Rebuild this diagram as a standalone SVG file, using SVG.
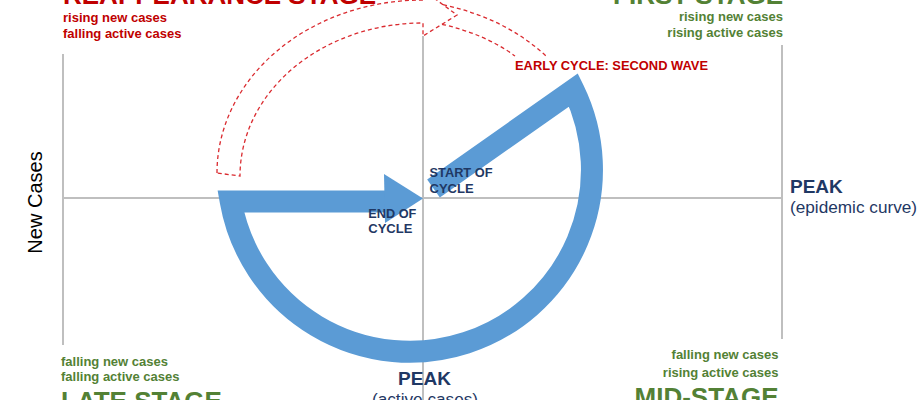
<svg xmlns="http://www.w3.org/2000/svg" width="921" height="400" viewBox="0 0 921 400">
<style>
text{font-family:"Liberation Sans",Arial,sans-serif}
.b{font-weight:bold}
.red{fill:#C00000}
.grn{fill:#538135}
.navy{fill:#1F3864}
.stage{font-size:26px;font-weight:bold}
.sub{font-size:13px;font-weight:bold}
.lbl{font-size:13px;font-weight:bold;fill:#1F3864}
.axis{stroke:#BFBFBF;stroke-width:2;fill:none}
.dash{stroke:#DA2A2F;stroke-width:1.3;fill:none;stroke-dasharray:4 3}
</style>
<rect width="921" height="400" fill="#FFFFFF"/>
<g id="axes">
<line class="axis" x1="63" y1="198" x2="782" y2="198"/>
<line class="axis" x1="423" y1="36" x2="423" y2="400"/>
<line class="axis" x1="63" y1="54" x2="63" y2="345"/>
<line class="axis" x1="782" y1="45" x2="782" y2="339"/>
</g>
<g id="connectors">
<path id="cycle" d="M 433.5 188.5 L 573.5 89.9 A 182 182 0 1 1 230.75 201.5 L 386 201.5" fill="none" stroke="#5B9BD5" stroke-width="22" stroke-linejoin="miter" stroke-miterlimit="4"/>
<polygon id="cycle-head" points="384,174 423,198.5 385,223" fill="#5B9BD5"/>
<path id="second-wave" class="dash" d="M 217 173 A 206 173 0 0 1 423 0 L 423 -10 L 457 15 L 423 36 L 423 23 A 183 153 0 0 0 240 176 Z"/>
<path id="second-wave-tail" class="dash" d="M 443 4.7 Q 505 18 546 56 M 442 24.3 Q 485 34 515 56"/>
</g>
<g id="reappearance-stage">
<text class="stage red" x="63" y="4">REAPPEARANCE STAGE</text>
<text class="sub red" x="63" y="22">rising new cases</text>
<text class="sub red" x="63" y="37.5">falling active cases</text>
</g>
<g id="first-stage">
<text class="stage grn" x="783" y="4" text-anchor="end">FIRST STAGE</text>
<text class="sub grn" x="783" y="21" text-anchor="end">rising new cases</text>
<text class="sub grn" x="783" y="36.5" text-anchor="end">rising active cases</text>
</g>
<g id="late-stage">
<text class="sub grn" x="61" y="365.5">falling new cases</text>
<text class="sub grn" x="61" y="381">falling active cases</text>
<text class="stage grn" x="61" y="409.5">LATE STAGE</text>
</g>
<g id="mid-stage">
<text class="sub grn" x="778.5" y="358.5" text-anchor="end">falling new cases</text>
<text class="sub grn" x="778.5" y="377" text-anchor="end">rising active cases</text>
<text class="stage grn" x="778.5" y="405.5" text-anchor="end">MID-STAGE</text>
</g>
<g id="early-cycle">
<text class="sub red" x="515" y="70" textLength="193" lengthAdjust="spacingAndGlyphs">EARLY CYCLE: SECOND WAVE</text>
</g>
<g id="start-of-cycle">
<text class="lbl" x="429.5" y="177.3" textLength="63" lengthAdjust="spacingAndGlyphs">START OF</text>
<text class="lbl" x="429.5" y="192.7">CYCLE</text>
</g>
<g id="end-of-cycle">
<text class="lbl" x="368.3" y="218.3" textLength="48" lengthAdjust="spacingAndGlyphs">END OF</text>
<text class="lbl" x="368.3" y="233.3">CYCLE</text>
</g>
<g id="peak-epidemic">
<text class="b navy" x="790" y="193.3" font-size="19">PEAK</text>
<text class="navy" x="790" y="212.5" font-size="17.2">(epidemic curve)</text>
</g>
<g id="peak-active">
<text class="b navy" x="424.5" y="384.5" font-size="19" text-anchor="middle">PEAK</text>
<text class="navy" x="425" y="404.5" font-size="17.2" text-anchor="middle">(active cases)</text>
</g>
<g id="y-axis-label">
<text x="41.5" y="202.5" font-size="20" fill="#000000" text-anchor="middle" transform="rotate(-90 41.5 202.5)">New Cases</text>
</g>
</svg>
